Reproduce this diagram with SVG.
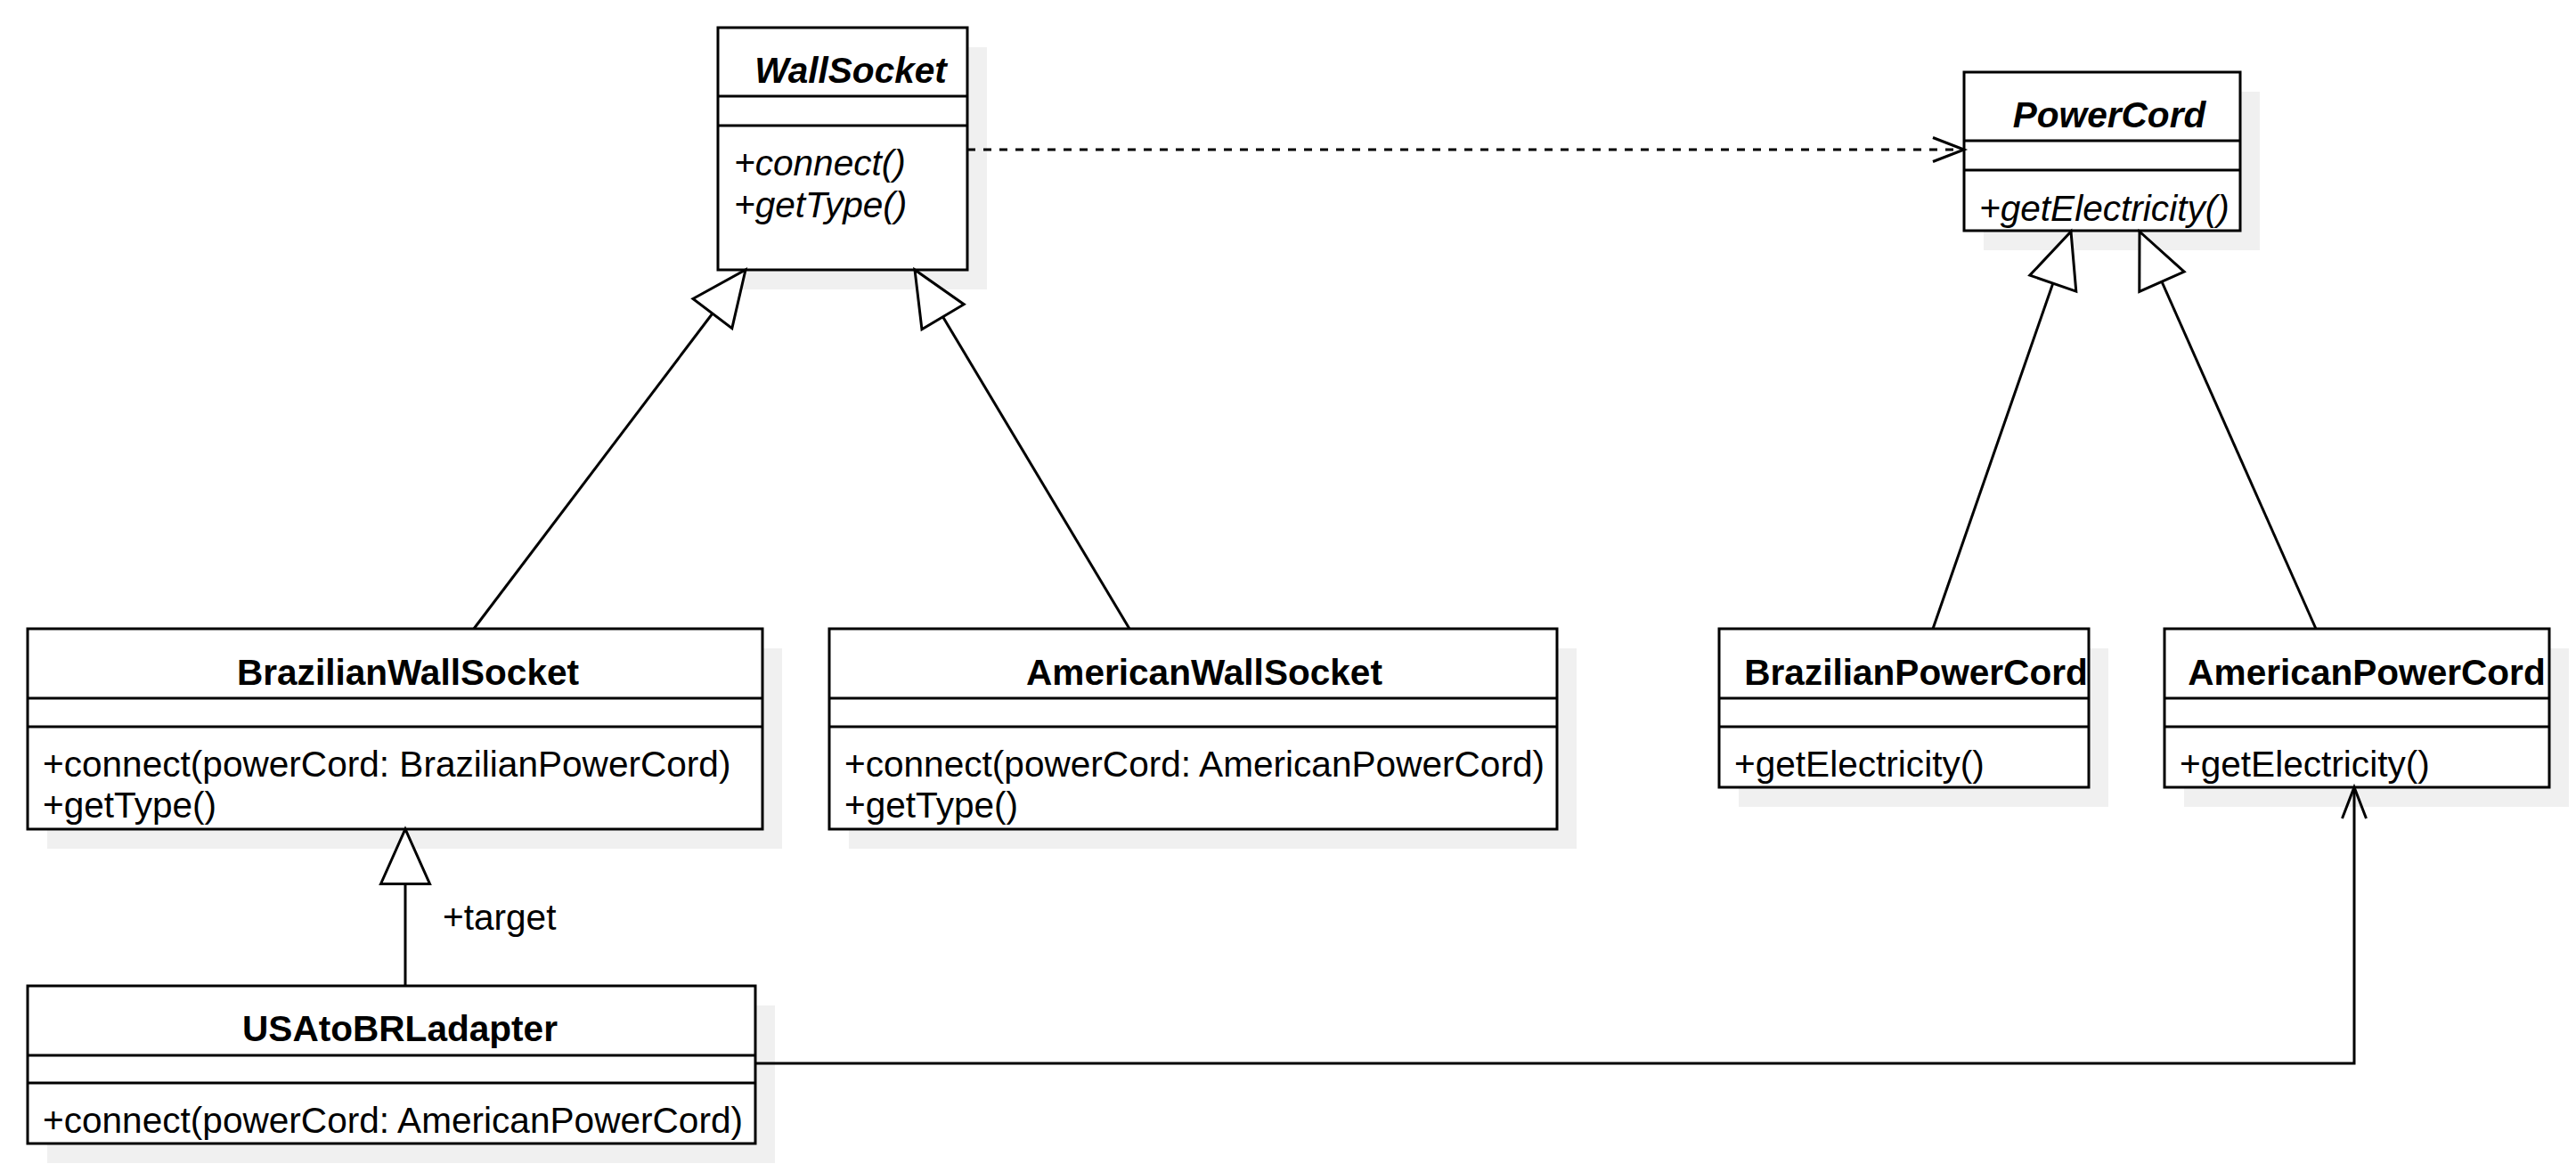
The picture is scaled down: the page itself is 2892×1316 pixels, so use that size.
<svg xmlns="http://www.w3.org/2000/svg" width="2892" height="1316" viewBox="0 0 2892 1316">
<style>
.box{fill:#ffffff;stroke:#000000;stroke-width:3}
.shadow{fill:#f0f0f0;stroke:none}
.div{stroke:#000000;stroke-width:3}
.t{font-family:"Liberation Sans",Arial,Helvetica,sans-serif;font-size:40.6px;fill:#000000}
.title{font-weight:bold;text-anchor:middle}
.abs{font-style:italic}
.edge{fill:none;stroke:#000000;stroke-width:3}
.dash{stroke-dasharray:9 9}
</style>
<defs>
<marker id="gen" markerUnits="userSpaceOnUse" viewBox="0 0 66 60" markerWidth="66" markerHeight="60" refX="63" refY="30" orient="auto" overflow="visible">
<path d="M1.5,2.5 L63,30 L1.5,57.5 Z" fill="#ffffff" stroke="#000000" stroke-width="3" stroke-linejoin="miter"/>
</marker>
<marker id="open" markerUnits="userSpaceOnUse" viewBox="0 0 40 32" markerWidth="40" markerHeight="32" refX="36" refY="16" orient="auto" overflow="visible">
<path d="M1,2.5 L36,16 L1,29.5" fill="none" stroke="#000000" stroke-width="3"/>
</marker>
</defs>
<rect width="2892" height="1316" fill="#ffffff"/>

<g id="WallSocket">
<rect class="shadow" x="828" y="53" width="280" height="272"/>
<rect class="box" x="806" y="31" width="280" height="272"/>
<line class="div" x1="806" y1="108" x2="1086" y2="108"/>
<line class="div" x1="806" y1="141" x2="1086" y2="141"/>
<text class="t title abs" x="955" y="93">WallSocket</text>
<text class="t abs" x="824" y="197">+connect()</text>
<text class="t abs" x="824" y="244">+getType()</text>
</g>

<g id="PowerCord">
<rect class="shadow" x="2227" y="103" width="310" height="178"/>
<rect class="box" x="2205" y="81" width="310" height="178"/>
<line class="div" x1="2205" y1="158" x2="2515" y2="158"/>
<line class="div" x1="2205" y1="191" x2="2515" y2="191"/>
<text class="t title abs" x="2368" y="143">PowerCord</text>
<text class="t abs" x="2222" y="248">+getElectricity()</text>
</g>

<g id="BrazilianWallSocket">
<rect class="shadow" x="53" y="728" width="825" height="225"/>
<rect class="box" x="31" y="706" width="825" height="225"/>
<line class="div" x1="31" y1="784" x2="856" y2="784"/>
<line class="div" x1="31" y1="816" x2="856" y2="816"/>
<text class="t title" x="458" y="769">BrazilianWallSocket</text>
<text class="t" x="48" y="872">+connect(powerCord: BrazilianPowerCord)</text>
<text class="t" x="48" y="918">+getType()</text>
</g>

<g id="AmericanWallSocket">
<rect class="shadow" x="953" y="728" width="817" height="225"/>
<rect class="box" x="931" y="706" width="817" height="225"/>
<line class="div" x1="931" y1="784" x2="1748" y2="784"/>
<line class="div" x1="931" y1="816" x2="1748" y2="816"/>
<text class="t title" x="1352" y="769">AmericanWallSocket</text>
<text class="t" x="948" y="872">+connect(powerCord: AmericanPowerCord)</text>
<text class="t" x="948" y="918">+getType()</text>
</g>

<g id="BrazilianPowerCord">
<rect class="shadow" x="1952" y="728" width="415" height="178"/>
<rect class="box" x="1930" y="706" width="415" height="178"/>
<line class="div" x1="1930" y1="784" x2="2345" y2="784"/>
<line class="div" x1="1930" y1="816" x2="2345" y2="816"/>
<text class="t title" x="2151" y="769">BrazilianPowerCord</text>
<text class="t" x="1947" y="872">+getElectricity()</text>
</g>

<g id="AmericanPowerCord">
<rect class="shadow" x="2452" y="728" width="432" height="178"/>
<rect class="box" x="2430" y="706" width="432" height="178"/>
<line class="div" x1="2430" y1="784" x2="2862" y2="784"/>
<line class="div" x1="2430" y1="816" x2="2862" y2="816"/>
<text class="t title" x="2657" y="769">AmericanPowerCord</text>
<text class="t" x="2447" y="872">+getElectricity()</text>
</g>

<g id="USAtoBRLadapter">
<rect class="shadow" x="53" y="1129" width="817" height="177"/>
<rect class="box" x="31" y="1107" width="817" height="177"/>
<line class="div" x1="31" y1="1185" x2="848" y2="1185"/>
<line class="div" x1="31" y1="1216" x2="848" y2="1216"/>
<text class="t title" x="449" y="1169">USAtoBRLadapter</text>
<text class="t" x="48" y="1272">+connect(powerCord: AmericanPowerCord)</text>
</g>

<g id="connectors">
<path class="edge" d="M532,706 L837,303" marker-end="url(#gen)"/>
<path class="edge" d="M1268,706 L1027,303" marker-end="url(#gen)"/>
<path class="edge" d="M2170,706 L2325,260" marker-end="url(#gen)"/>
<path class="edge" d="M2600,706 L2402,260" marker-end="url(#gen)"/>
<path class="edge" d="M455,1107 L455,931" marker-end="url(#gen)"/>
<path class="edge" d="M848,1194 L2643,1194 L2643,884" marker-end="url(#open)"/>
<path class="edge dash" d="M1086,168 L2205,168" marker-end="url(#open)"/>
<text class="t" x="497" y="1044">+target</text>
</g>
</svg>
